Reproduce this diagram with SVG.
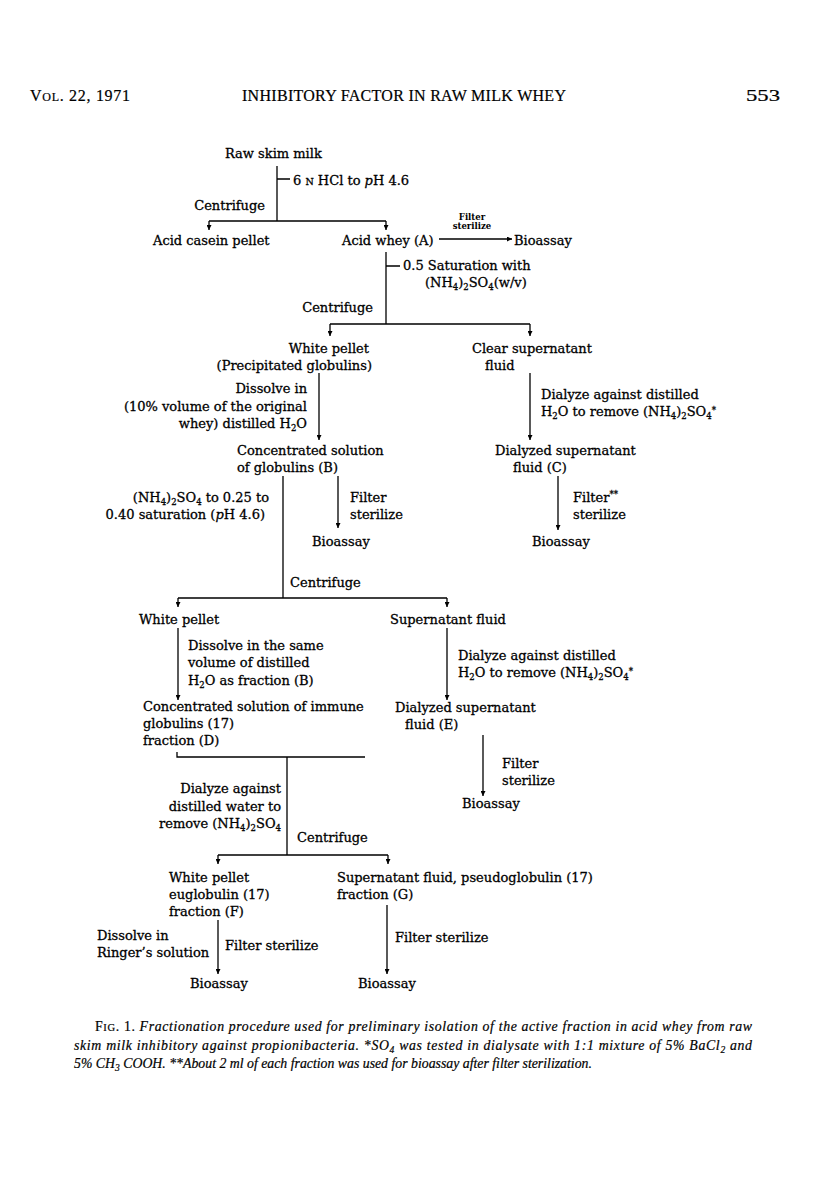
<svg xmlns="http://www.w3.org/2000/svg" width="816" height="1200" viewBox="0 0 816 1200">
<style>
.t{font-family:"DejaVu Serif","Liberation Serif",serif;font-size:13px;fill:#000;stroke:#000;stroke-width:0.3}
.e{text-anchor:end}
.h{font-family:"Liberation Serif",serif;font-size:16px;fill:#000;stroke:#000;stroke-width:0.2}
.c{font-family:"Liberation Serif",serif;font-size:13.8px;font-style:italic;fill:#000;stroke:#000;stroke-width:0.2}
.s{font-family:"DejaVu Serif",serif;font-size:8.5px;font-weight:bold;text-anchor:middle;fill:#000}
.ln{stroke:#000;stroke-width:1.3;fill:none}
.ar{stroke:#000;stroke-width:1.3;fill:none;marker-end:url(#ah)}
.sb{font-size:8.5px}
</style>
<defs>
<marker id="ah" viewBox="0 0 8 8" refX="8" refY="4" markerWidth="5" markerHeight="5" orient="auto" markerUnits="userSpaceOnUse">
<path d="M0,0 L8,4 L0,8 Z" fill="#000"/>
</marker>
</defs>
<rect width="816" height="1200" fill="#fff"/>

<g id="header">
<text class="h" x="30" y="101" textLength="100">V<tspan font-size="12">OL</tspan>. 22, 1971</text>
<text class="h" x="242" y="101" textLength="324">INHIBITORY FACTOR IN RAW MILK WHEY</text>
<text class="h" x="746" y="101" font-size="18" textLength="34" lengthAdjust="spacingAndGlyphs">553</text>
</g>

<g id="connectors">
<path class="ln" d="M277,166 V221 M209,221 H386 M277,179 H290"/>
<path class="ar" d="M209,221 V230"/>
<path class="ar" d="M386,221 V230"/>
<path class="ar" d="M439,239 H512"/>
<path class="ln" d="M386,252 V324 M386,266 H400 M330,324 H530"/>
<path class="ar" d="M330,324 V336"/>
<path class="ar" d="M530,324 V336"/>
<path class="ar" d="M319,373 V440"/>
<path class="ar" d="M530,373 V440"/>
<path class="ln" d="M283,476 V598 M178,598 H447"/>
<path class="ar" d="M338,476 V528"/>
<path class="ar" d="M558,476 V530"/>
<path class="ar" d="M178,598 V607"/>
<path class="ar" d="M447,598 V607"/>
<path class="ar" d="M178,628 V700"/>
<path class="ar" d="M447,628 V700"/>
<path class="ar" d="M483,735 V796"/>
<path class="ln" d="M177,752 V757 H365 M287,757 V855 M218,855 H388"/>
<path class="ar" d="M218,855 V864"/>
<path class="ar" d="M388,855 V864"/>
<path class="ar" d="M218,920 V974"/>
<path class="ar" d="M387,905 V974"/>
</g>

<g id="n-raw"><text class="t" x="225" y="158">Raw skim milk</text></g>
<g id="l-hcl"><text class="t" x="293" y="185">6 <tspan font-size="9.5">N</tspan> HCl to <tspan font-style="italic">p</tspan>H 4.6</text></g>
<g id="l-cent1"><text class="t e" x="265" y="210">Centrifuge</text></g>
<g id="n-casein"><text class="t" x="153" y="245">Acid casein pellet</text></g>
<g id="n-wheyA"><text class="t" x="342" y="245">Acid whey (A)</text></g>
<g id="l-filterA"><text class="s" x="472" y="220">Filter</text><text class="s" x="472" y="229">sterilize</text></g>
<g id="n-bio1"><text class="t" x="514" y="245">Bioassay</text></g>

<g id="l-sat"><text class="t" x="403" y="270">0.5 Saturation with</text>
<text class="t" x="425" y="287">(NH<tspan class="sb" dy="2.5">4</tspan><tspan dy="-2.5">)</tspan><tspan class="sb" dy="2.5">2</tspan><tspan dy="-2.5">SO</tspan><tspan class="sb" dy="2.5">4</tspan><tspan dy="-2.5">(w/v)</tspan></text></g>
<g id="l-cent2"><text class="t e" x="373" y="312">Centrifuge</text></g>
<g id="n-wp1"><text class="t e" x="369" y="353">White pellet</text><text class="t e" x="372" y="370">(Precipitated globulins)</text></g>
<g id="n-clear"><text class="t" x="472" y="353">Clear supernatant</text><text class="t" x="485" y="370">fluid</text></g>
<g id="l-dissolve1"><text class="t e" x="307" y="393">Dissolve in</text><text class="t e" x="307" y="411">(10% volume of the original</text>
<text class="t e" x="307" y="428">whey) distilled H<tspan class="sb" dy="2.5">2</tspan><tspan dy="-2.5">O</tspan></text></g>
<g id="l-dialyze1"><text class="t" x="541" y="399">Dialyze against distilled</text>
<text class="t" x="541" y="416">H<tspan class="sb" dy="2.5">2</tspan><tspan dy="-2.5">O to remove (NH</tspan><tspan class="sb" dy="2.5">4</tspan><tspan dy="-2.5">)</tspan><tspan class="sb" dy="2.5">2</tspan><tspan dy="-2.5">SO</tspan><tspan class="sb" dy="2.5">4</tspan><tspan class="sb" dy="-6">*</tspan></text></g>
<g id="n-B"><text class="t" x="237" y="455">Concentrated solution</text><text class="t" x="237" y="472">of globulins (B)</text></g>
<g id="n-C"><text class="t" x="495" y="455">Dialyzed supernatant</text><text class="t" x="513" y="472">fluid (C)</text></g>
<g id="l-sat2"><text class="t e" x="269" y="502">(NH<tspan class="sb" dy="2.5">4</tspan><tspan dy="-2.5">)</tspan><tspan class="sb" dy="2.5">2</tspan><tspan dy="-2.5">SO</tspan><tspan class="sb" dy="2.5">4</tspan><tspan dy="-2.5"> to 0.25 to</tspan></text>
<text class="t e" x="265" y="519">0.40 saturation (<tspan font-style="italic">p</tspan>H 4.6)</text></g>
<g id="l-filterB"><text class="t" x="350" y="502">Filter</text><text class="t" x="350" y="519">sterilize</text></g>
<g id="n-bio2"><text class="t" x="312" y="546">Bioassay</text></g>
<g id="l-filterC"><text class="t" x="573" y="502">Filter<tspan class="sb" dy="-5">**</tspan></text><text class="t" x="573" y="519">sterilize</text></g>
<g id="n-bio3"><text class="t" x="532" y="546">Bioassay</text></g>
<g id="l-cent3"><text class="t" x="290" y="587">Centrifuge</text></g>
<g id="n-wp2"><text class="t" x="139" y="624">White pellet</text></g>
<g id="n-sup"><text class="t" x="390" y="624">Supernatant fluid</text></g>
<g id="l-dissolve2"><text class="t" x="188" y="650">Dissolve in the same</text><text class="t" x="188" y="667">volume of distilled</text>
<text class="t" x="188" y="685">H<tspan class="sb" dy="2.5">2</tspan><tspan dy="-2.5">O as fraction (B)</tspan></text></g>
<g id="l-dialyze2"><text class="t" x="458" y="660">Dialyze against distilled</text>
<text class="t" x="458" y="677">H<tspan class="sb" dy="2.5">2</tspan><tspan dy="-2.5">O to remove (NH</tspan><tspan class="sb" dy="2.5">4</tspan><tspan dy="-2.5">)</tspan><tspan class="sb" dy="2.5">2</tspan><tspan dy="-2.5">SO</tspan><tspan class="sb" dy="2.5">4</tspan><tspan class="sb" dy="-6">*</tspan></text></g>
<g id="n-D"><text class="t" x="143" y="711">Concentrated solution of immune</text><text class="t" x="143" y="728">globulins (17)</text><text class="t" x="143" y="745">fraction (D)</text></g>
<g id="n-E"><text class="t" x="395" y="712">Dialyzed supernatant</text><text class="t" x="405" y="729">fluid (E)</text></g>
<g id="l-filterE"><text class="t" x="502" y="768">Filter</text><text class="t" x="502" y="785">sterilize</text></g>
<g id="n-bio4"><text class="t" x="462" y="808">Bioassay</text></g>
<g id="l-dialyze3"><text class="t e" x="281" y="793">Dialyze against</text><text class="t e" x="281" y="811">distilled water to</text>
<text class="t e" x="281" y="828">remove (NH<tspan class="sb" dy="2.5">4</tspan><tspan dy="-2.5">)</tspan><tspan class="sb" dy="2.5">2</tspan><tspan dy="-2.5">SO</tspan><tspan class="sb" dy="2.5">4</tspan></text></g>
<g id="l-cent4"><text class="t" x="297" y="842">Centrifuge</text></g>
<g id="n-F"><text class="t" x="169" y="882">White pellet</text><text class="t" x="169" y="899">euglobulin (17)</text><text class="t" x="169" y="916">fraction (F)</text></g>
<g id="n-G"><text class="t" x="337" y="882">Supernatant fluid, pseudoglobulin (17)</text><text class="t" x="337" y="899">fraction (G)</text></g>
<g id="l-ringer"><text class="t" x="97" y="940">Dissolve in</text><text class="t" x="97" y="957">Ringer’s solution</text></g>
<g id="l-filterF"><text class="t" x="225" y="950">Filter sterilize</text></g>
<g id="l-filterG"><text class="t" x="395" y="942">Filter sterilize</text></g>
<g id="n-bio5"><text class="t" x="190" y="988">Bioassay</text></g>
<g id="n-bio6"><text class="t" x="358" y="988">Bioassay</text></g>

<g id="caption">
<text class="c" x="95" y="1031" textLength="657"><tspan font-style="normal">F<tspan font-size="10.5">IG</tspan>. 1. </tspan>Fractionation procedure used for preliminary isolation of the active fraction in acid whey from raw</text>
<text class="c" x="74" y="1050" textLength="678">skim milk inhibitory against propionibacteria. *SO<tspan font-size="9.5" dy="2.5">4</tspan><tspan dy="-2.5"> was tested in dialysate with 1:1 mixture of 5% BaCl</tspan><tspan font-size="9.5" dy="2.5">2</tspan><tspan dy="-2.5"> and</tspan></text>
<text class="c" x="74" y="1068">5% CH<tspan font-size="9.5" dy="2.5">3</tspan><tspan dy="-2.5"> COOH. **About 2 ml of each fraction was used for bioassay after filter sterilization.</tspan></text>
</g>
</svg>
